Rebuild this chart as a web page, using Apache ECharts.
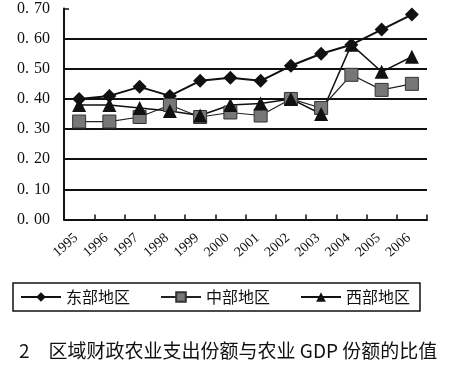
<!DOCTYPE html>
<html><head><meta charset="utf-8">
<script src="https://cdn.jsdelivr.net/npm/echarts@6/dist/echarts.min.js"></script>
<style>html,body{margin:0;padding:0;background:#fff}#c{width:450px;height:367px}</style>
</head><body><div id="c"></div>
<script>
const years = ['1995','1996','1997','1998','1999','2000','2001','2002','2003','2004','2005','2006'];
const east = [0.40,0.41,0.44,0.41,0.46,0.47,0.46,0.51,0.55,0.58,0.63,0.68];
const central = [0.325,0.325,0.34,0.38,0.34,0.355,0.345,0.40,0.37,0.48,0.43,0.45];
const west = [0.38,0.38,0.37,0.36,0.345,0.38,0.385,0.40,0.35,0.58,0.49,0.54];
const yLabels = ['0.00','0.10','0.20','0.30','0.40','0.50','0.60','0.70'];
const seriesNames = ['东部地区','中部地区','西部地区'];
const caption = '2　区域财政农业支出份额与农业 GDP 份额的比值';

const serif = 'Liberation Serif';
const cjk = 'Noto Sans CJK SC';
const chart = echarts.init(document.getElementById('c'), null, {renderer:'canvas'});
chart.setOption({
  backgroundColor:'#fff',
  animation:false,
  title:{text:caption,left:14,top:336,textStyle:{fontFamily:cjk,fontSize:19,fontWeight:'normal',color:'#111'}},
  legend:{
    data:seriesNames,left:13,top:283,width:430,height:18,
    padding:[6,10,6,7],itemGap:30,itemWidth:40,itemHeight:12,
    borderColor:'#111',borderWidth:1.5,
    textStyle:{fontFamily:cjk,fontSize:16,color:'#111'}
  },
  grid:{left:64,right:23,top:8.5,bottom:147.5,containLabel:false},
  xAxis:{
    type:'category',data:years,boundaryGap:true,
    axisLine:{lineStyle:{color:'#111',width:2}},
    axisTick:{show:true,inside:true,length:5,lineStyle:{color:'#111',width:1.5}},
    axisLabel:{rotate:41,fontFamily:serif,fontSize:14,color:'#111',margin:14,padding:[0,4,0,0]}
  },
  yAxis:{
    type:'value',min:0,max:0.7,interval:0.1,
    axisLine:{show:true,lineStyle:{color:'#111',width:2}},
    axisTick:{show:true,inside:true,length:5,lineStyle:{color:'#111',width:1.5}},
    axisLabel:{color:'#111',margin:14,
      formatter:v=>{const s=yLabels[Math.round(v*10)];return '{a|'+s.slice(0,2)+'}{b|'+s.slice(2)+'}';},
      rich:{a:{fontFamily:serif,fontSize:16,color:'#111'},
            b:{fontFamily:serif,fontSize:16,color:'#111',padding:[0,0,0,5]}}},
    splitLine:{show:true,showMaxLine:false,lineStyle:{color:'#111',width:1.8}}
  },
  series:[
    {name:seriesNames[0],type:'line',data:east,symbol:'diamond',symbolSize:14,
      lineStyle:{color:'#111',width:2},itemStyle:{color:'#111'}},
    {name:seriesNames[1],type:'line',data:central,symbol:'rect',symbolSize:13,
      lineStyle:{color:'#222',width:1.2},itemStyle:{color:'#777',borderColor:'#333',borderWidth:1}},
    {name:seriesNames[2],type:'line',data:west,symbol:'triangle',symbolSize:14,
      lineStyle:{color:'#111',width:1.5},itemStyle:{color:'#111'}}
  ]
});
</script></body></html>
